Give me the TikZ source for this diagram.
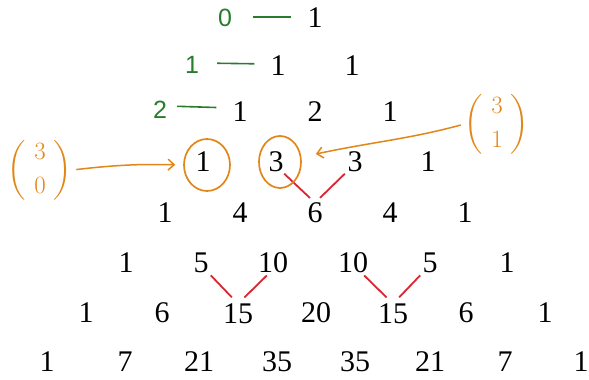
\documentclass[tikz,border=0pt]{standalone}
\usepackage{amsmath}
\usepackage{fontspec}
\setmainfont{Liberation Serif}
\newfontfamily\handfont{Liberation Sans}
\usetikzlibrary{arrows.meta,shapes.geometric}
\definecolor{hand}{RGB}{225,135,25}
\definecolor{lbl}{RGB}{40,125,45}
\definecolor{conn}{RGB}{215,40,50}
\begin{document}
\begin{tikzpicture}[x=1pt,y=-1pt,
 num/.style={inner sep=0pt,font=\fontsize{30}{32}\selectfont},
 rowlbl/.style={text=lbl,inner sep=0pt,font=\handfont\fontsize{25}{27}\selectfont},
 tick/.style={draw=lbl,line width=1.6pt},
 ring/.style={draw=hand,ellipse,line width=1.7pt,minimum width=46pt,minimum height=52pt,inner sep=0pt},
 pointer/.style={draw=hand,line width=1.5pt,-{Straight Barb[length=6pt,width=11pt]}},
 binomlbl/.style={text=hand,inner sep=0pt,font=\fontsize{24}{26}\selectfont},
 link/.style={draw=conn,line width=1.8pt}]
\useasboundingbox[fill=white] (0,0) rectangle (589,380);
% row 0
\node[num] (r00) at (315,18) {1};
% row 1
\node[num] (r10) at (278,66) {1};
\node[num] (r11) at (352,66) {1};
% row 2
\node[num] (r20) at (240,112) {1};
\node[num] (r21) at (315,112) {2};
\node[num] (r22) at (390,112) {1};
% row 3
\node[num] (r30) at (203,162) {1};
\node[num] (r31) at (276,162) {3};
\node[num] (r32) at (355,162) {3};
\node[num] (r33) at (428,162) {1};
% row 4
\node[num] (r40) at (165,213) {1};
\node[num] (r41) at (240,213) {4};
\node[num] (r42) at (315,213) {6};
\node[num] (r43) at (390,213) {4};
\node[num] (r44) at (465,213) {1};
% row 5
\node[num] (r50) at (126,263) {1};
\node[num] (r51) at (201,263) {5};
\node[num] (r52) at (273,263) {10};
\node[num] (r53) at (353,263) {10};
\node[num] (r54) at (430,263) {5};
\node[num] (r55) at (507,263) {1};
% row 6
\node[num] (r60) at (86,313) {1};
\node[num] (r61) at (162,313) {6};
\node[num] (r62) at (238,314) {15};
\node[num] (r63) at (316,313) {20};
\node[num] (r64) at (393,314) {15};
\node[num] (r65) at (466,313) {6};
\node[num] (r66) at (545,313) {1};
% row 7
\node[num] (r70) at (47,362) {1};
\node[num] (r71) at (125,362) {7};
\node[num] (r72) at (199,362) {21};
\node[num] (r73) at (277,362) {35};
\node[num] (r74) at (355,362) {35};
\node[num] (r75) at (430,362) {21};
\node[num] (r76) at (505,362) {7};
\node[num] (r77) at (581,362) {1};
% row labels
\node[rowlbl] (l0) at (225,18) {0};
\node[rowlbl] (l1) at (192,65) {1};
\node[rowlbl] (l2) at (160,110) {2};
\draw[tick,shorten <=21pt,shorten >=16pt] ([yshift=1pt]l0.east) -- ([yshift=1pt]r00.west);
\draw[tick,shorten <=18pt,shorten >=16pt] ([yshift=2pt]l1.east) -- ([yshift=2pt]r10.west);
\draw[tick,shorten <=10pt,shorten >=16pt] ([yshift=4pt]l2.east) -- ([yshift=4pt]r20.west);
% red links
\draw[link,shorten <=2pt,shorten >=7pt] ([xshift=-1pt]r31.south east) -- (r42.north);
\draw[link,shorten <=2pt,shorten >=7pt] ([xshift=-1pt]r32.south west) -- (r42.north);
\draw[link,shorten <=3pt,shorten >=9pt] (r51.south east) -- (r62.north);
\draw[link,shorten <=3pt,shorten >=9pt] ([xshift=-4pt]r52.south) -- (r62.north);
\draw[link,shorten <=3pt,shorten >=9pt] ([xshift=9pt]r53.south) -- (r64.north);
\draw[link,shorten <=3pt,shorten >=9pt] (r54.south west) -- (r64.north);
% orange rings and binomials
\node[ring] (c1) at (207,165) {};
\node[ring,minimum width=42pt] (c3) at (280,162) {};
\node[binomlbl] (b30) at (40,170) {$\displaystyle\left(\;\genfrac{}{}{0pt}{0}{3}{0}\;\right)$};
\node[binomlbl] (b31) at (497,124) {$\displaystyle\left(\;\genfrac{}{}{0pt}{0}{3}{1}\;\right)$};
\draw[pointer,shorten <=4pt,shorten >=8pt] (b30.east) to[bend left=4] (c1.west);
\draw[pointer,shorten <=4pt,shorten >=0pt] (b31.west) to[out=195,in=12] ([xshift=14pt,yshift=8pt]c3.east);
\end{tikzpicture}
\end{document}
